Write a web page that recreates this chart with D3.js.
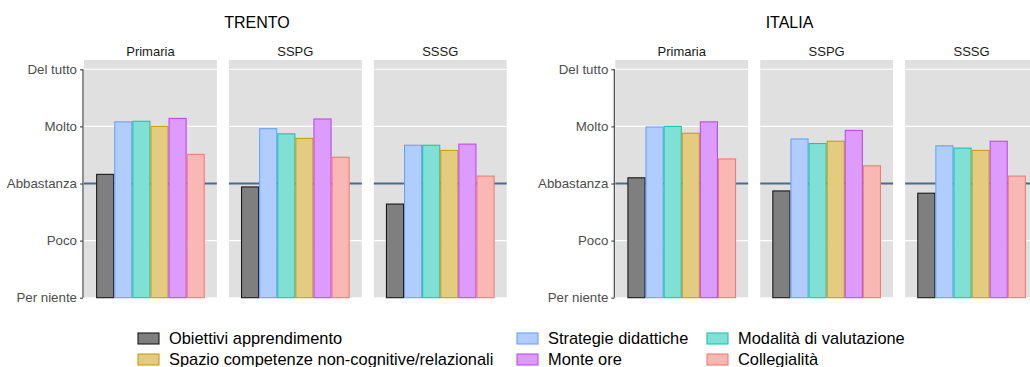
<!DOCTYPE html>
<html>
<head>
<meta charset="utf-8">
<script src="https://cdn.jsdelivr.net/npm/d3@7"></script>
<style>
  html, body { margin: 0; padding: 0; background: #ffffff; }
  svg { display: block; font-family: "Liberation Sans", Arial, sans-serif; }
</style>
</head>
<body>
<svg id="chart" width="1030" height="367"></svg>
<script>
// ---- data ----
const regions = ["TRENTO", "ITALIA"];
const schoolLevels = ["Primaria", "SSPG", "SSSG"];
const series = [
  "Obiettivi apprendimento",
  "Strategie didattiche",
  "Modalità di valutazione",
  "Spazio competenze non-cognitive/relazionali",
  "Monte ore",
  "Collegialità"
];
const tickLabels = ["Per niente", "Poco", "Abbastanza", "Molto", "Del tutto"];
const tickValues = [1, 2, 3, 4, 5];
const referenceValue = 3;

// values per school level, in series order
const trentoPrimaria = [3.16, 4.08, 4.09, 4.00, 4.14, 3.51];
const trentoSSPG     = [2.94, 3.96, 3.87, 3.79, 4.13, 3.46];
const trentoSSSG     = [2.64, 3.67, 3.67, 3.58, 3.69, 3.13];
const italiaPrimaria = [3.10, 3.99, 4.00, 3.88, 4.08, 3.43];
const italiaSSPG     = [2.87, 3.78, 3.70, 3.74, 3.93, 3.31];
const italiaSSSG     = [2.83, 3.66, 3.62, 3.58, 3.74, 3.13];

const fillColors   = ["#7f7f7f", "#b0cdfe", "#80e0d6", "#e3cb80", "#dd9bfc", "#f9b8b4"];
const strokeColors = ["#1a1a1a", "#6aa0ff", "#1cc4b2", "#c99d10", "#bb4cf5", "#f47b73"];

const regionData = {
  TRENTO: [trentoPrimaria, trentoSSPG, trentoSSSG],
  ITALIA: [italiaPrimaria, italiaSSPG, italiaSSSG]
};

// ---- layout ----
const svg = d3.select("#chart");
const panelTop = 60, panelBottom = 298;
const groupRanges = { TRENTO: [84, 506.7], ITALIA: [615.3, 1038] };
const titleX = { TRENTO: 257, ITALIA: 789.5 };

const y = d3.scaleLinear().domain([1, 5.163]).range([297.7, panelTop]);
const color = d3.scaleOrdinal().domain(series).range(fillColors);
const stroke = d3.scaleOrdinal().domain(series).range(strokeColors);

regions.forEach(region => {
  const [x0, x1] = groupRanges[region];
  const g = svg.append("g");

  const xPanel = d3.scaleBand().domain(schoolLevels).range([x0, x1])
    .paddingInner(0.083).paddingOuter(0);

  // title
  g.append("text")
    .attr("x", titleX[region]).attr("y", 28)
    .attr("text-anchor", "middle")
    .attr("font-size", 16).attr("fill", "#000")
    .text(region);

  schoolLevels.forEach((lvl, li) => {
    const px = xPanel(lvl), pw = xPanel.bandwidth();
    const pg = g.append("g");

    pg.append("rect")
      .attr("x", px).attr("y", panelTop)
      .attr("width", pw).attr("height", panelBottom - panelTop)
      .attr("fill", "#e0e0e0");

    // grid
    pg.selectAll("line.grid").data(tickValues).join("line")
      .attr("class", "grid")
      .attr("x1", px).attr("x2", px + pw)
      .attr("y1", d => y(d)).attr("y2", d => y(d))
      .attr("stroke", "#ffffff").attr("stroke-width", 1.1);

    // reference line
    pg.append("line")
      .attr("x1", px).attr("x2", px + pw)
      .attr("y1", y(referenceValue)).attr("y2", y(referenceValue))
      .attr("stroke", "#4a6b8c").attr("stroke-width", 2);

    // strip label
    pg.append("text")
      .attr("x", px + pw / 2).attr("y", 56)
      .attr("text-anchor", "middle")
      .attr("font-size", 13).attr("fill", "#1a1a1a")
      .text(lvl);

    const xBar = d3.scaleBand().domain(series).range([px, px + pw])
      .paddingInner(0).paddingOuter(0.67);

    const vals = regionData[region][li];
    pg.selectAll("rect.bar").data(series.map((s, i) => ({ s, v: vals[i] }))).join("rect")
      .attr("class", "bar")
      .attr("x", d => xBar(d.s) + 0.5)
      .attr("width", xBar.bandwidth() - 1)
      .attr("y", d => y(d.v))
      .attr("height", d => y(1) - y(d.v))
      .attr("fill", d => color(d.s))
      .attr("stroke", d => stroke(d.s))
      .attr("stroke-width", 1.1);
  });

  // y axis
  const axis = d3.axisLeft(y).tickValues(tickValues)
    .tickFormat((d, i) => tickLabels[i]).tickSize(3).tickPadding(3);
  const ag = g.append("g").attr("transform", `translate(${x0 - 1},0)`).call(axis);
  ag.select(".domain").attr("d", `M0,${y(5)}V${y(1)}`)
    .attr("stroke", "#333333").attr("stroke-width", 1.1);
  ag.selectAll(".tick line").attr("stroke", "#333333");
  ag.selectAll(".tick text").attr("font-size", 13.3).attr("fill", "#4d4d4d")
    .attr("font-family", "Liberation Sans, Arial, sans-serif");
});

// ---- legend ----
const legendCols = [138, 517, 707];
const legendRows = [338.5, 359.5];
const lg = svg.append("g");
series.forEach((s, i) => {
  const col = i % 3, row = Math.floor(i / 3);
  const lx = legendCols[col], ly = legendRows[row];
  lg.append("rect")
    .attr("x", lx).attr("y", ly - 5.5)
    .attr("width", 21).attr("height", 11)
    .attr("fill", color(s)).attr("stroke", stroke(s)).attr("stroke-width", 1.1);
  lg.append("text")
    .attr("x", lx + 31).attr("y", ly)
    .attr("dy", "0.35em")
    .attr("font-size", 16.4).attr("fill", "#000")
    .text(s);
});
</script>
</body>
</html>
